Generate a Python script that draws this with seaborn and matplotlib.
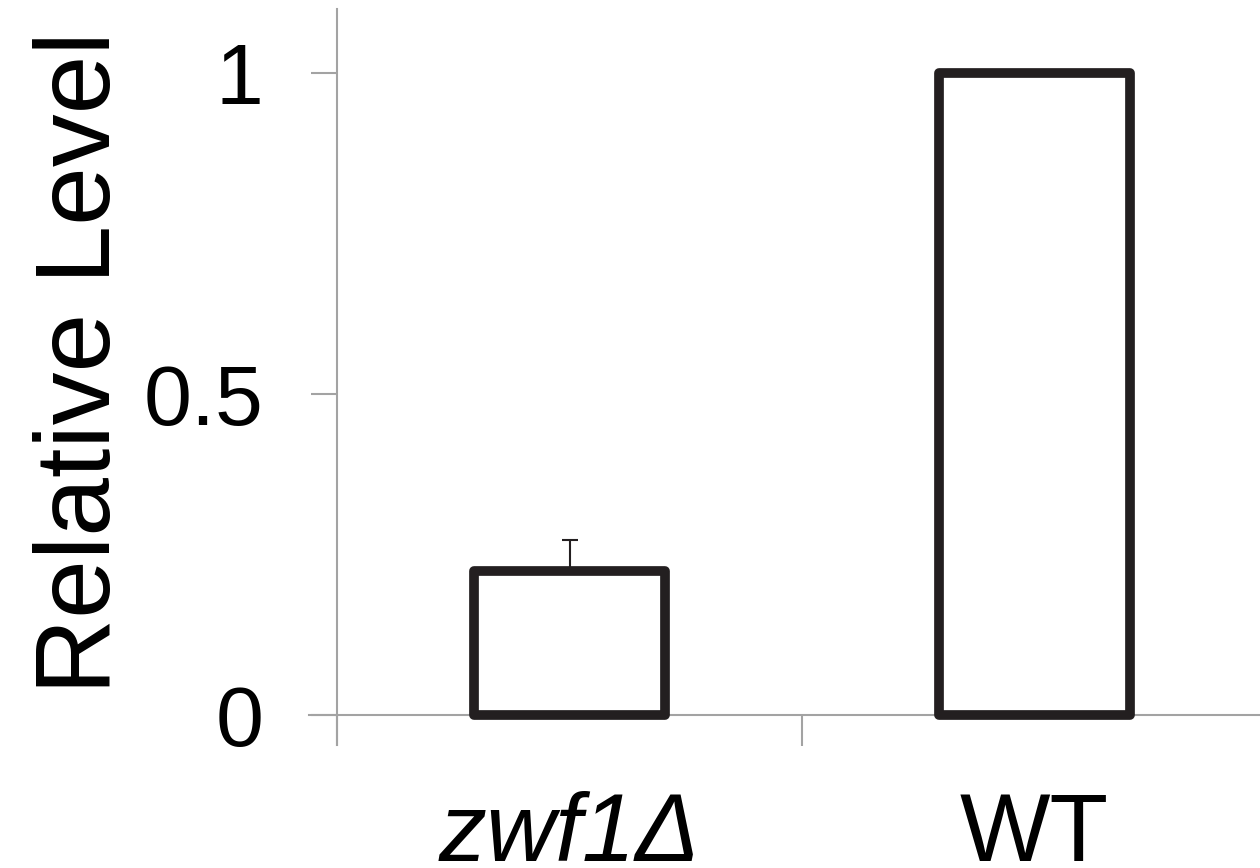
import matplotlib
matplotlib.use("Agg")
import matplotlib.pyplot as plt
import seaborn as sns
import pandas as pd
import numpy as np

categories = ["zwf1Δ", "WT"]
values = [0.224, 1.0]
err_up = [0.049, 0.0]
yticks = [0, 0.5, 1]
ytick_labels = ["0", "0.5", "1"]

sns.set_theme(style="white")
plt.rcParams["font.family"] = ["Liberation Sans", "DejaVu Sans"]

fig = plt.figure(figsize=(12.6, 8.68), dpi=100)
ax = fig.add_axes([337/1260, 1-745/868, 1-337/1260, (745-9)/868])

df = pd.DataFrame({"cat": categories, "val": values})
sns.barplot(data=df, x="cat", y="val", ax=ax, color="white", width=0.41,
            edgecolor="#231f20", linewidth=7, errorbar=None)
for p in ax.patches:
    p.set_joinstyle("round")
    p.set_zorder(3)

# upward-only error bars
for i, (v, e) in enumerate(zip(values, err_up)):
    if e > 0:
        ax.errorbar(i, v, yerr=[[0], [e]], fmt="none", ecolor="#231f20",
                    elinewidth=1.5, capsize=6, capthick=1.5, zorder=2)

gray = "#a3a3a3"
ax.set_xlim(-0.5, -0.5 + (1260-337)/465)
ax.set_ylim(-(745-715)/642, (715-9)/642)

for s in ["top", "right"]:
    ax.spines[s].set_visible(False)
ax.spines["left"].set_color(gray)
ax.spines["left"].set_linewidth(1.5)
ax.spines["bottom"].set_color(gray)
ax.spines["bottom"].set_linewidth(1.5)
ax.spines["bottom"].set_position(("data", 0))
ax.spines["bottom"].set_bounds(-0.5 - 28/465, ax.get_xlim()[1])

ax.set_yticks(yticks)
ax.set_yticklabels(ytick_labels)
ax.tick_params(axis="y", direction="out", length=19, width=1.5, color=gray,
               labelsize=62, pad=34, labelcolor="black", left=True)

ax.set_xticks([-0.5, 0.5])
ax.set_xticklabels(["", ""])
ax.tick_params(axis="x", which="major", direction="out", length=22, width=1.5,
               color=gray, bottom=True)
ax.set_xticks([0, 1], minor=True)
ax.set_xticklabels(categories, minor=True)
ax.tick_params(axis="x", which="minor", length=0, labelsize=69, pad=55,
               labelcolor="black")
for lab in ax.get_xticklabels(minor=True):
    if lab.get_text() != "WT":
        lab.set_style("italic")

ax.set_xlabel("")
ax.set_ylabel("Relative Level", fontsize=76, color="black", labelpad=2)
ax.yaxis.set_label_coords(-0.222, 0.52)

fig.savefig("out.png", dpi=100)
